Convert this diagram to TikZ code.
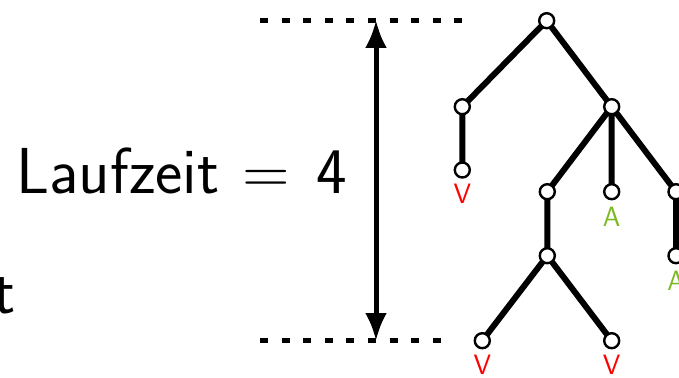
\documentclass[tikz,border=0pt]{standalone}
\usetikzlibrary{arrows.meta,backgrounds}
\definecolor{lblgreen}{RGB}{125,185,35}
\begin{document}
\begin{tikzpicture}[x=1pt,y=-1pt,
  tnode/.style={circle,draw=black,fill=white,line width=2.4pt,minimum size=15pt,inner sep=0pt},
  tedge/.style={line width=6pt},
  dashline/.style={line width=5pt,dash pattern=on 8pt off 13.6pt},
  bigtxt/.style={anchor=base east,inner sep=0pt,font=\sffamily\fontsize{65}{78}\selectfont},
  lbl/.style={font=\sffamily\fontsize{28}{30}\selectfont,anchor=base},
  vlbl/.style={lbl,text=red},
  albl/.style={lbl,text=lblgreen}]
\useasboundingbox (0,0) rectangle (679,377);
\clip (0,0) rectangle (679,377);
% texts
\node[bigtxt] (lz) at (347,193) {Laufzeit\hspace{0.36em}=\hspace{0.4em}4};
\node[bigtxt] (tt) at (16,313) {t};
% dashed lines
\coordinate (d1a) at (260,21);
\coordinate (d1b) at (462,21);
\coordinate (d2a) at (260,340.5);
\coordinate (d2b) at (442,340.5);
\draw[dashline] (d1a) -- (d1b);
\draw[dashline] (d2a) -- (d2b);
\coordinate (at) at (376,20);
\coordinate (ab) at (376,341);
\draw[line width=5pt,{Latex[length=28pt,width=22pt]}-{Latex[length=28pt,width=22pt]}] (at) -- (ab);
% tree nodes
\node[tnode] (r) at (546.7,20.7) {};
\node[tnode] (a) at (462.3,106.7) {};
\node[tnode] (b) at (611.7,106.7) {};
\node[tnode] (a1) at (462.3,170) {};
\node[tnode] (b1) at (547.3,191.7) {};
\node[tnode] (b2) at (611.7,191.7) {};
\node[tnode] (b3) at (676,191.7) {};
\node[tnode] (c) at (547.3,255.7) {};
\node[tnode] (b31) at (676,255.7) {};
\node[tnode] (c1) at (482.3,340.7) {};
\node[tnode] (c2) at (611.7,340.7) {};
% edges behind the nodes
\begin{pgfonlayer}{background}
\draw[tedge] (r.center) -- (a.center) (r.center) -- (b.center)
  (a.center) -- (a1.center)
  (b.center) -- (b1.center) (b.center) -- (b2.center) (b.center) -- (b3.center)
  (b1.center) -- (c.center) (b3.center) -- (b31.center)
  (c.center) -- (c1.center) (c.center) -- (c2.center);
\end{pgfonlayer}
% labels
\node[vlbl] (la1) at ([yshift=-33pt]a1.center) {V};
\node[albl] (lb2) at ([yshift=-35pt]b2.center) {A};
\node[albl] (lb31) at ([yshift=-35pt]b31.center) {A};
\node[vlbl] (lc1) at ([yshift=-34pt]c1.center) {V};
\node[vlbl] (lc2) at ([yshift=-34pt]c2.center) {V};
\end{tikzpicture}
\end{document}
